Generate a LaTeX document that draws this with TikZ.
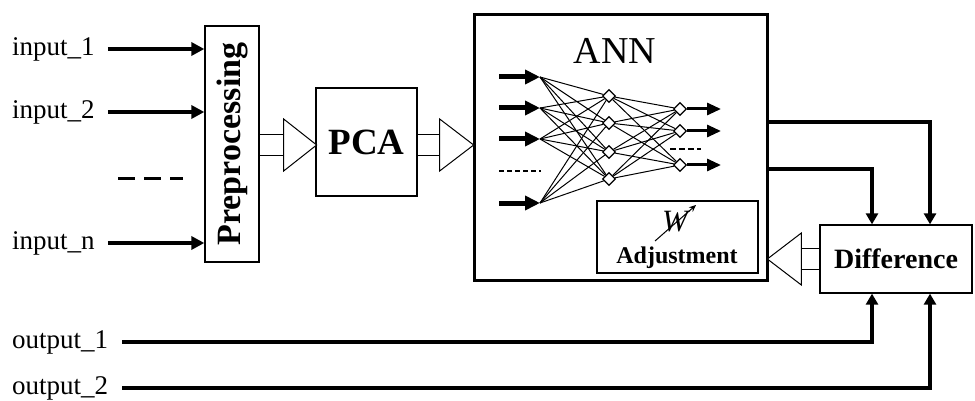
\documentclass[tikz,border=0pt]{standalone}
\usepackage{fontspec}
\setmainfont{Liberation Serif}
\usetikzlibrary{arrows.meta,calc,shapes.geometric}
\tikzset{
  box/.style={draw, line width=1.3pt, inner sep=0pt, fill=white},
  lbl/.style={font=\fontsize{27}{27}\selectfont, anchor=west, inner sep=0pt},
  inarr/.style={line width=4.5pt, -{Triangle[length=13pt,width=13pt]}},
  sigarr/.style={line width=4pt, -{Triangle[length=11pt,width=12pt]}},
  netin/.style={line width=5pt, -{Triangle[length=15pt,width=14pt]}},
  netout/.style={line width=3pt, -{Triangle[length=14pt,width=12pt]}},
  wire/.style={line width=1pt},
  neuron/.style={diamond, draw, fill=white, line width=1.3pt, minimum size=13pt, inner sep=0pt},
  hol/.style={line width=1pt},
  pics/hc/.style args={#1/#2}{code={
    \draw[hol] (0,-10.5) -- (#1,-10.5) (0,10.5) -- (#1,10.5);
    \draw[hol, fill=white] (#1,-26) -- ({#1+#2},0) -- (#1,26) -- cycle;
  }}
}
\begin{document}
\begin{tikzpicture}[x=1pt,y=-1pt]
\useasboundingbox (0,0) rectangle (975,401);

% boxes
\node[box, minimum width=54pt, minimum height=236pt] (pre) at (232,144) {};
\node[rotate=90, font=\fontsize{34}{34}\selectfont\bfseries, inner sep=0pt] (pretxt) at (pre.center) {Preprocessing};
\node[box, minimum width=101pt, minimum height=108pt, font=\fontsize{37}{37}\selectfont\bfseries] (pca) at (366.5,142) {PCA};
\node[box, line width=3pt, minimum width=293pt, minimum height=265pt] (ann) at (620.5,147.5) {};
\node[font=\fontsize{38}{38}\selectfont, inner sep=0pt] (anntxt) at (615,51) {ANN};
\node[box, minimum width=161pt, minimum height=72pt] (adj) at (677.5,237) {};
\node[font=\fontsize{31}{31}\selectfont\itshape, inner sep=0pt] (w) at (675,222) {W};
\node[font=\fontsize{24}{24}\selectfont\bfseries, inner sep=0pt] (adjtxt) at (677,258) {Adjustment};
\coordinate (wa) at (655,241);
\coordinate (wb) at (696,205);
\draw[line width=1pt, -{Stealth[length=7pt,width=6pt]}] (wa) -- (wb);
\node[box, minimum width=152pt, minimum height=68pt, font=\fontsize{28}{28}\selectfont\bfseries] (diff) at (896,259) {Difference};

% input labels
\node[lbl] (in1) at (12,49) {input\_1};
\node[lbl] (in2) at (12,112) {input\_2};
\node[lbl] (inn) at (12,243) {input\_n};
\coordinate (dA) at (118,179);
\coordinate (dB) at (183,179);
\draw[line width=3pt, dash pattern=on 17pt off 9pt] (dA) -- (dB);
\draw[inarr] ([xshift=13pt]in1.east) -- (in1 -| pre.west);
\draw[inarr] ([xshift=13pt]in2.east) -- (in2 -| pre.west);
\draw[inarr] ([xshift=13pt]inn.east) -- (inn -| pre.west);

% hollow connectors
\pic at (pre.east |- 0,145) {hc=24/33};
\pic at (pca.east |- 0,145) {hc=22/34};
\pic[xscale=-1] at (diff.west |- 0,259) {hc=18/34};

% network
\coordinate (i1) at (540,77);
\coordinate (i2) at (540,108);
\coordinate (i3) at (540,139);
\coordinate (i4) at (540,203);
\coordinate (s1) at (499,77);
\coordinate (s2) at (499,108);
\coordinate (s3) at (499,139);
\coordinate (s4) at (499,203);
\node[neuron] (h1) at (609,96) {};
\node[neuron] (h2) at (609,123) {};
\node[neuron] (h3) at (609,152) {};
\node[neuron] (h4) at (609,179) {};
\node[neuron] (o1) at (680,109) {};
\node[neuron] (o2) at (680,131) {};
\node[neuron] (o3) at (680,165) {};
\coordinate (e1) at (721,109);
\coordinate (e2) at (721,131);
\coordinate (e3) at (721,165);
\foreach \i in {i1,i2,i3,i4}{
  \foreach \h in {h1,h2,h3,h4}{\draw[wire] (\i) -- (\h);}
}
\foreach \h in {h1,h2,h3,h4}{
  \foreach \o in {o1,o2,o3}{\draw[wire] (\h) -- (\o);}
}
\foreach \s/\i in {s1/i1,s2/i2,s3/i3,s4/i4}{\draw[netin] (\s) -- (\i);}
\foreach \o/\e in {o1/e1,o2/e2,o3/e3}{\draw[netout] (\o) -- (\e);}
\coordinate (nd1) at (499,171);
\coordinate (nd2) at (541,171);
\draw[line width=1.2pt, dash pattern=on 5pt off 3pt] (nd1) -- (nd2);
\coordinate (od1) at (670,149);
\coordinate (od2) at (701,149);
\draw[line width=1.2pt, dash pattern=on 6pt off 3pt] (od1) -- (od2);

% outputs of ANN to Difference
\draw[sigarr] (ann.east |- 0,122) -| (diff.north -| 930,0);
\draw[sigarr] (ann.east |- 0,169) -| (diff.north -| 872,0);

% target outputs
\node[lbl] (out1) at (12,342) {output\_1};
\node[lbl] (out2) at (12,388) {output\_2};
\draw[sigarr] ([xshift=14pt]out1.east) -| (diff.south -| 872,0);
\draw[sigarr] ([xshift=14pt]out2.east) -| (diff.south -| 930,0);
\end{tikzpicture}
\end{document}
